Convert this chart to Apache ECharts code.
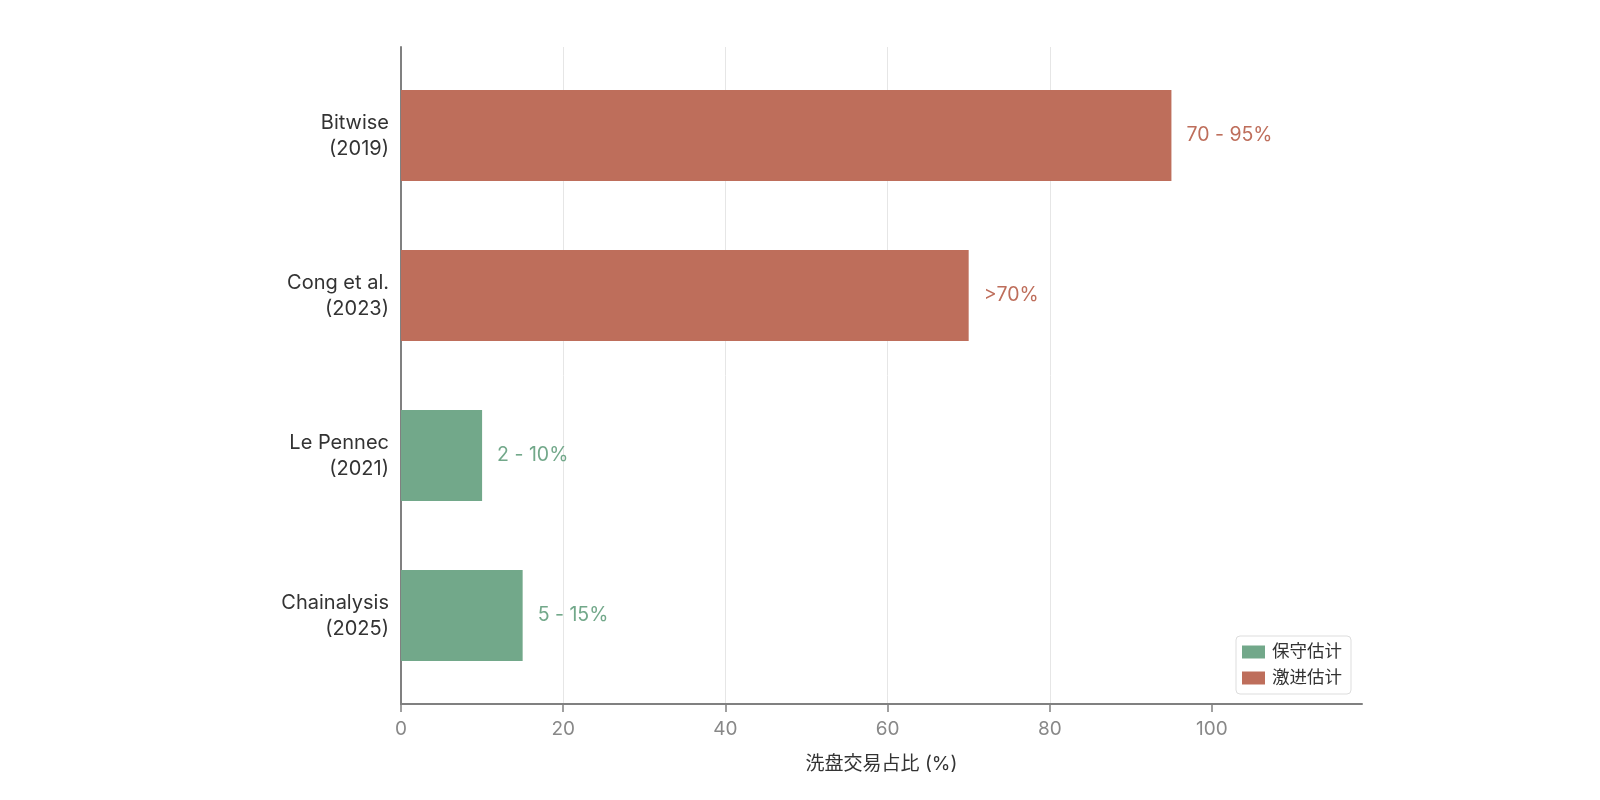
<!DOCTYPE html>
<html>
<head>
<meta charset="utf-8">
<script src="https://cdn.jsdelivr.net/npm/echarts@6/dist/echarts.min.js"></script>
<style>
html,body{margin:0;padding:0;background:#fff;}
#c{width:1600px;height:800px;}
</style>
</head>
<body>
<div id="c"></div>
<script>
const categories = ['Bitwise\n(2019)', 'Cong et al.\n(2023)', 'Le Pennec\n(2021)', 'Chainalysis\n(2025)'];
const conservative = [null, null, 10, 15];
const aggressive = [95, 70, null, null];
const barLabels = ['70 - 95%', '>70%', '2 - 10%', '5 - 15%'];
const xTicks = [0, 20, 40, 60, 80, 100];
const seriesNames = ['保守估计', '激进估计'];
const xAxisTitle = '洗盘交易占比 (%)';
const X_MAX = 118.5;

const FONT = 'Inter, "Noto Sans CJK JP", sans-serif';
const GREEN = '#72A88A';
const RED = '#BE6E5B';
const AXIS = '#808080';

const chart = echarts.init(document.getElementById('c'), null, {renderer: 'canvas'});
const labelOpt = (color) => ({
  show: true,
  position: 'right',
  distance: 15,
  color: color,
  fontSize: 19.5,
  fontFamily: FONT,
  formatter: (p) => barLabels[p.dataIndex]
});
chart.setOption({
  backgroundColor: '#fff',
  animation: false,
  grid: [
    {left: 401, right: 238, top: 55.5, bottom: 104.5},
    {left: 401, right: 238, top: 47, bottom: 96}
  ],
  xAxis: [
    {type: 'value', gridIndex: 0, min: 0, max: X_MAX, show: false},
    {type: 'value', gridIndex: 1, min: 0, max: X_MAX, interval: 20,
     name: xAxisTitle, nameLocation: 'middle', nameGap: 51,
     nameTextStyle: {color: '#333', fontSize: 19, fontFamily: FONT},
     axisLine: {show: true, lineStyle: {color: AXIS, width: 2}},
     axisTick: {show: true, length: 8, lineStyle: {color: AXIS, width: 1.5}, customValues: xTicks},
     axisLabel: {color: '#888', fontSize: 19, fontFamily: FONT, margin: 16, customValues: xTicks},
     splitLine: {show: true, showMinLine: false, showMaxLine: false, lineStyle: {color: '#e6e6e6', width: 1}}
    }
  ],
  yAxis: [
    {type: 'category', gridIndex: 0, data: categories, inverse: true,
     axisLine: {show: false}, axisTick: {show: false},
     axisLabel: {color: '#333', fontSize: 20, lineHeight: 26, fontFamily: FONT, margin: 12, align: 'right'}
    },
    {type: 'value', gridIndex: 1, min: 0, max: 1,
     axisLine: {show: true, lineStyle: {color: AXIS, width: 2}},
     axisTick: {show: false}, axisLabel: {show: false}, splitLine: {show: false}
    }
  ],
  legend: {
    orient: 'vertical',
    right: 249, bottom: 106,
    data: seriesNames,
    itemWidth: 23, itemHeight: 13, itemGap: 8,
    icon: 'rect',
    padding: [7, 9, 7, 6],
    borderColor: '#dddddd', borderWidth: 1, borderRadius: 4,
    backgroundColor: '#fff',
    textStyle: {color: '#333', fontSize: 17.5, lineHeight: 18, fontFamily: FONT, padding: [0, 0, 0, 2]}
  },
  series: [
    {name: seriesNames[0], type: 'bar', xAxisIndex: 0, yAxisIndex: 0, stack: 'one',
     barWidth: '57%', data: conservative, itemStyle: {color: GREEN}, label: labelOpt(GREEN)},
    {name: seriesNames[1], type: 'bar', xAxisIndex: 0, yAxisIndex: 0, stack: 'one',
     barWidth: '57%', data: aggressive, itemStyle: {color: RED}, label: labelOpt(RED)}
  ]
});
</script>
</body>
</html>
